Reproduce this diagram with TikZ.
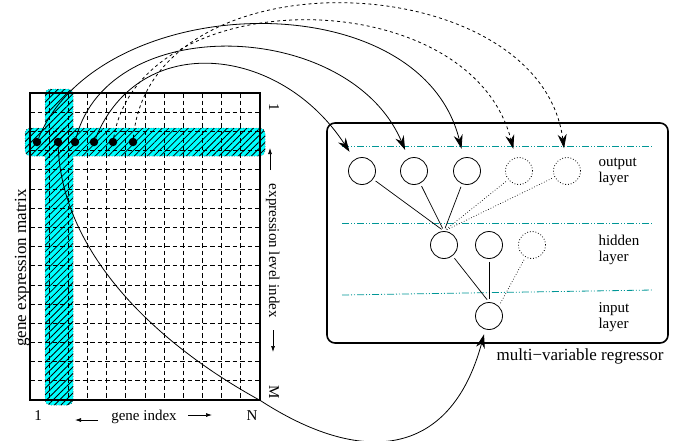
\documentclass[tikz,border=0pt]{standalone}
\usepackage{fontspec}
\setmainfont{Liberation Serif}
\usetikzlibrary{calc,arrows.meta,patterns.meta,positioning}
\definecolor{bandcyan}{RGB}{0,255,255}
\definecolor{layerteal}{RGB}{0,150,150}

\begin{document}
\begin{tikzpicture}[x=1pt, y=-1pt,
        gridline/.style={dash pattern=on 4.5pt off 3pt, line width=0.7pt},
        band/.style={rounded corners=5pt},
        hatch/.style={band, pattern={Lines[angle=45,distance=4.6pt,line width=0.8pt]}},
        gdot/.style={circle, fill, inner sep=0pt, minimum size=8.5pt},
        neuron/.style={circle, draw, line width=0.8pt, inner sep=0pt, minimum size=27pt},
        spare/.style={neuron, dotted},
        layerline/.style={layerteal, line width=0.8pt, dash pattern=on 7pt off 2pt on 1pt off 2pt on 1pt off 2pt},
        feed/.style={-{Stealth[length=14pt,width=9pt]}, line width=0.8pt, shorten >=9pt},
        link/.style={line width=0.7pt, shorten <=3pt, shorten >=3pt},
        tag/.style={font=\fontsize{15}{15.5}\selectfont},
        bigtag/.style={font=\fontsize{17}{19}\selectfont},
        ]
        \useasboundingbox (0,0) rectangle (679,440);
        \fill[bandcyan, band] (45,89) rectangle (73,405);
        \fill[bandcyan, band] (25,128) rectangle (265,156);
        \pattern[hatch] (45,89) rectangle (73,405);
        \pattern[hatch] (25,128) rectangle (265,156);
        \draw[band, dotted, line width=0.5pt] (45,89) rectangle (73,405);
        \draw[band, dotted, line width=0.5pt] (25,128) rectangle (265,156);
        \foreach \i in {1,...,11}
                \draw[gridline] ({30+\i*230/12},93) -- ++(0,307);
        \foreach \j in {1,...,15}
                \draw[gridline] (30,{93+\j*307/16}) -- ++(230,0);
        \node (mat) [draw, line width=1.6pt, inner sep=0pt, minimum width=230pt, minimum height=307pt] at (145,246.5) {};

        \foreach \x [count=\k] in {37,58,75,94,113,133}
                \node[gdot] (d\k) at (\x,142) {};

        \node[bigtag, rotate=90, anchor=base] (mattitle) at (26,268) {gene expression matrix};
        \node[tag, rotate=-90, anchor=base] (rowfirst) at (269,107) {1};
        \node[tag, rotate=-90, anchor=base] (rowtitle) at (269,251) {expression level index};
        \node[tag, rotate=-90, anchor=base] (rowlast) at (269,392) {M};
        \draw[-{Latex[length=6pt,width=4pt]}, line width=0.7pt] (270,170) -- (270,148);
        \draw[-{Latex[length=6pt,width=4pt]}, line width=0.7pt] (273,330) -- (273,352);
        \node[tag, anchor=base] (colfirst) at (38,420) {1};
        \node[tag, anchor=base] (coltitle) at (144,420) {gene index};
        \node[tag, anchor=base] (collast) at (252,420) {N};
        \draw[-{Latex[length=6pt,width=4pt]}, line width=0.7pt] (98,420) -- (75,420);
        \draw[-{Latex[length=6pt,width=4pt]}, line width=0.7pt] (188,415) -- (212,415);

        \node (reg) [draw, rounded corners=8pt, line width=1.6pt, minimum width=341pt, minimum height=220pt] at (497.5,233) {};
        \node[bigtag, anchor=base east] (regtitle) at (667,360) {multi−variable regressor};
        \draw[layerline] (342,146) -- (653,146);
        \draw[layerline] (342,223) -- (653,223);
        \draw[layerline] (342,295) -- (653,290);

        \foreach \x [count=\k] in {362,414,467}
                \node[neuron] (o\k) at (\x,171) {};
        \node[spare] (o4) at (519,171) {};
        \node[spare] (o5) at (567,171) {};
        \node[neuron] (h1) at (444,245) {};
        \node[neuron] (h2) at (489,245) {};
        \node[spare] (h3) at (532,245) {};
        \node[neuron] (inp) at (489,316) {};

        \node[tag, align=left, anchor=west] (outtag) at (595,172) {output\\layer};
        \node[tag, align=left, anchor=west] (hidtag) at (595,250) {hidden\\layer};
        \node[tag, align=left, anchor=west] (intag) at (595,317) {input\\layer};

        \foreach \k in {1,2,3}
                \draw[link] (o\k) -- (h1.north);
        \draw[link, dotted] (o4) -- (h1.north);
        \draw[link, dotted] (o5) -- (h1.north);
        \draw[link] (h1) -- (inp.north);
        \draw[link] (h2) -- (inp);
        \draw[link, dotted] (h3) -- (inp.north east);

        \draw[feed] (d4) .. controls (140,30) and (280,45) .. (o1);
        \draw[feed] (d3) .. controls (110,10) and (350,20) .. (o2);
        \draw[feed] (d1) .. controls (100,-10) and (420,-20) .. (o3);
        \draw[feed, dashed] (d5) .. controls (140,-20) and (470,-20) .. (o4);
        \draw[feed, dashed] (d6) .. controls (150,-50) and (540,-35) .. (o5);
        \draw[feed, shorten >=5pt] (d2) .. controls (62,250) and (150,340) .. (mat.south east) .. controls (360,465) and (450,460) .. (inp);
\end{tikzpicture}
\end{document}
